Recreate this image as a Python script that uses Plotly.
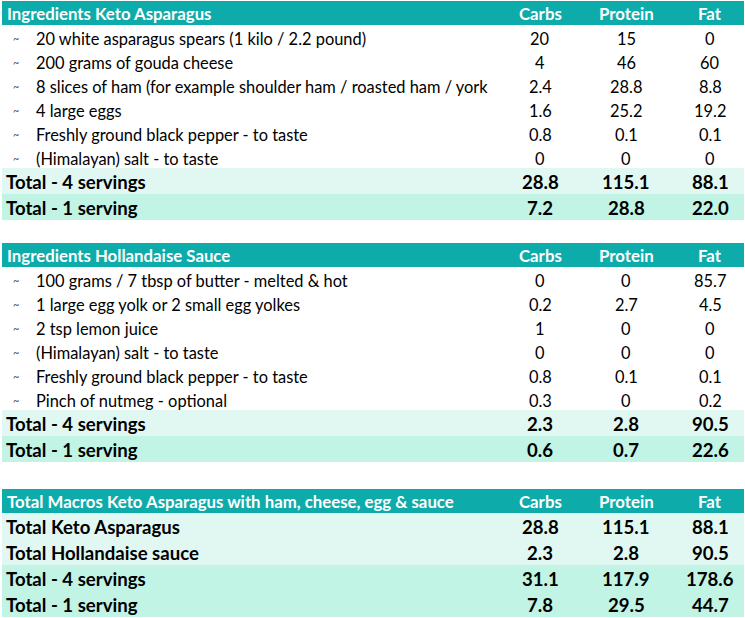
import plotly.graph_objects as go

# ---------------- data ----------------
col_names = ["Carbs", "Protein", "Fat"]

t1_title = "Ingredients Keto Asparagus"
t1_items = [
    "20 white asparagus spears (1 kilo / 2.2 pound)",
    "200 grams of gouda cheese",
    "8 slices of ham (for example shoulder ham / roasted ham / york",
    "4 large eggs",
    "Freshly ground black pepper - to taste",
    "(Himalayan) salt - to taste",
]
t1_carbs = ["20", "4", "2.4", "1.6", "0.8", "0"]
t1_protein = ["15", "46", "28.8", "25.2", "0.1", "0"]
t1_fat = ["0", "60", "8.8", "19.2", "0.1", "0"]
t1_total_labels = ["Total - 4 servings", "Total - 1 serving"]
t1_total_carbs = ["28.8", "7.2"]
t1_total_protein = ["115.1", "28.8"]
t1_total_fat = ["88.1", "22.0"]

t2_title = "Ingredients Hollandaise Sauce"
t2_items = [
    "100 grams / 7 tbsp of butter - melted & hot",
    "1 large egg yolk or 2 small egg yolkes",
    "2 tsp lemon juice",
    "(Himalayan) salt - to taste",
    "Freshly ground black pepper - to taste",
    "Pinch of nutmeg - optional",
]
t2_carbs = ["0", "0.2", "1", "0", "0.8", "0.3"]
t2_protein = ["0", "2.7", "0", "0", "0.1", "0"]
t2_fat = ["85.7", "4.5", "0", "0", "0.1", "0.2"]
t2_total_labels = ["Total - 4 servings", "Total - 1 serving"]
t2_total_carbs = ["2.3", "0.6"]
t2_total_protein = ["2.8", "0.7"]
t2_total_fat = ["90.5", "22.6"]

t3_title = "Total Macros Keto Asparagus with ham, cheese, egg & sauce"
t3_labels = ["Total Keto Asparagus", "Total Hollandaise sauce",
             "Total - 4 servings", "Total - 1 serving"]
t3_carbs = ["28.8", "2.3", "31.1", "7.8"]
t3_protein = ["115.1", "2.8", "117.9", "29.5"]
t3_fat = ["88.1", "90.5", "178.6", "44.7"]

# ---------------- style / layout ----------------
W, H = 745, 618
FONT = "Lato"
TEAL = "#0EABAB"
LIGHT = "#E1F8F2"
MINT = "#C1F4E4"
col_x = [540, 626, 710]
X0, X1 = 2, 744
HEADER_H = 24
ITEM_H = 24
TOTAL_H = 26
HEAD_SIZE = 16.8
ITEM_SIZE = 16.4
TOT_SIZE = 18.6

shapes = []
annots = []


def rect(y0, y1, color):
    shapes.append(dict(type="rect", xref="x", yref="y", x0=X0, x1=X1,
                       y0=y0, y1=y1, fillcolor=color, line=dict(width=0),
                       layer="below"))


def text(x, y, s, size, color="black", bold=False, anchor="left"):
    if bold:
        s = "<b>" + s + "</b>"
    annots.append(dict(x=x, y=y, xref="x", yref="y", text=s, showarrow=False,
                       xanchor=anchor, yanchor="middle",
                       font=dict(family=FONT, size=size, color=color)))


def header(top, title):
    rect(top, top + HEADER_H, TEAL)
    yc = top + HEADER_H / 2
    text(5, yc, title, HEAD_SIZE, "white", True)
    for cx, n in zip(col_x, col_names):
        text(cx, yc, n, HEAD_SIZE, "white", True, "center")
    return top + HEADER_H


def items(top, names, c, p, f):
    for i, name in enumerate(names):
        yc = top + ITEM_H * i + ITEM_H / 2 + 1
        text(11, yc, "~", 11, "#555555")
        text(34, yc, name, ITEM_SIZE)
        for cx, v in zip(col_x, (c[i], p[i], f[i])):
            text(cx, yc, v, ITEM_SIZE, anchor="center")
    return top + ITEM_H * len(names)


def totals(top, labels, c, p, f, colors):
    for i, lab in enumerate(labels):
        y0 = top + TOTAL_H * i
        rect(y0, y0 + TOTAL_H, colors[i])
        yc = y0 + TOTAL_H / 2 + 1
        text(4, yc, lab, TOT_SIZE, bold=True)
        for cx, v in zip(col_x, (c[i], p[i], f[i])):
            text(cx, yc, v, TOT_SIZE, bold=True, anchor="center")
    return top + TOTAL_H * len(labels)


# table 1
y = header(1, t1_title)
y = items(y, t1_items, t1_carbs, t1_protein, t1_fat)
y = totals(y - 1, t1_total_labels, t1_total_carbs, t1_total_protein,
           t1_total_fat, [LIGHT, MINT])

# table 2
y = header(243, t2_title)
y = items(y, t2_items, t2_carbs, t2_protein, t2_fat)
y = totals(y - 1, t2_total_labels, t2_total_carbs, t2_total_protein,
           t2_total_fat, [LIGHT, MINT])

# table 3
y = header(489, t3_title)
totals(y, t3_labels, t3_carbs, t3_protein, t3_fat, [LIGHT, LIGHT, MINT, MINT])

fig = go.Figure()
fig.update_layout(
    width=W, height=H, margin=dict(l=0, r=0, t=0, b=0),
    paper_bgcolor="white", plot_bgcolor="white",
    xaxis=dict(range=[0, W], visible=False, fixedrange=True),
    yaxis=dict(range=[H, 0], visible=False, fixedrange=True),
    shapes=shapes, annotations=annots, showlegend=False,
)
fig.write_html("out.html", config={"displayModeBar": False},
               post_script="document.body.style.margin='0';"
                           "document.body.style.padding='0';"
                           "document.body.style.overflow='hidden';")
